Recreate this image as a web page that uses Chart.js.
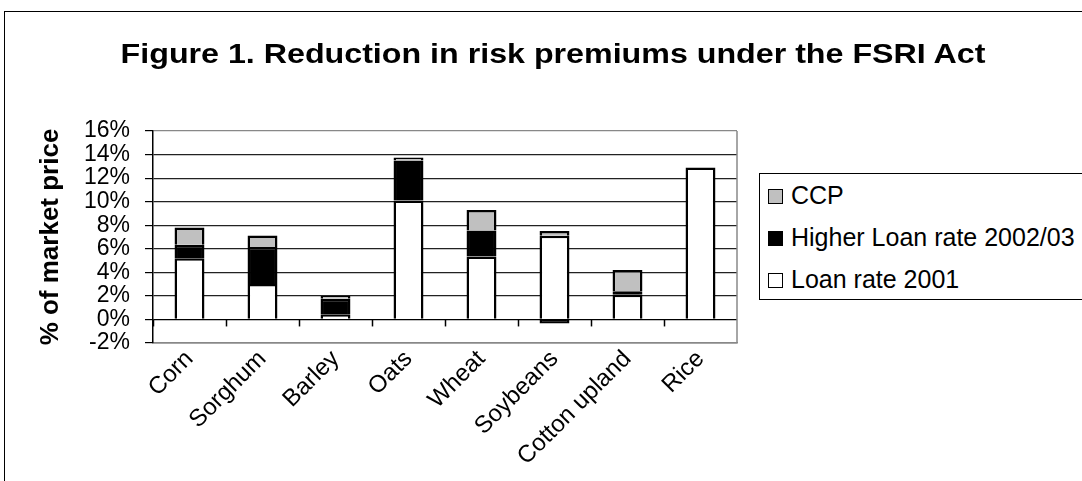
<!DOCTYPE html>
<html>
<head>
<meta charset="utf-8">
<script src="https://cdn.jsdelivr.net/npm/chart.js@4"></script>
<style>
  body { margin: 0; background: #fff; font-family: "Liberation Sans", Arial, sans-serif; }
  #wrap { position: relative; width: 1082px; height: 481px; overflow: hidden; }
  #frame { position: absolute; left: 4px; top: 11px; width: 1200px; height: 600px; border: 1px solid #000; }
  #myChart { position: absolute; left: 0; top: 0; }
  #title { position: absolute; left: 0; top: 38px; width: 1106px; text-align: center; }
  #title span { display: inline-block; font-size: 28px; font-weight: bold; color: #000; transform: scaleX(1.15); white-space: nowrap; }
  #legend { position: absolute; left: 759px; top: 173px; width: 400px; height: 125px; border: 1px solid #000; background: #fff; }
  .item { position: absolute; left: 8px; font-size: 25px; line-height: 28px; color: #000; white-space: nowrap; }
  .item span { display: inline-block; width: 13px; height: 13px; border: 1px solid #000; margin-right: 8px; vertical-align: 0px; }
</style>
</head>
<body>
<div id="wrap">
  <div id="frame"></div>
  <canvas id="myChart" width="1082" height="481"></canvas>
  <div id="title"><span>Figure 1. Reduction in risk premiums under the FSRI Act</span></div>
  <div id="legend"></div>
</div>
<script>
const crops = ['Corn', 'Sorghum', 'Barley', 'Oats', 'Wheat', 'Soybeans', 'Cotton upland', 'Rice'];
const loanRate2001 = [5.2, 3.0, 0.4, 10.1, 5.35, 7.1, 2.1, 12.9];
const higherLoanRate = [1.15, 3.15, 1.35, 3.4, 2.2, -0.35, 0.3, 0];
const ccp = [1.45, 0.97, 0.25, 0.25, 1.75, 0.4, 1.8, 0];

const fontName = '"Liberation Sans", Arial, sans-serif';

// tick marks on the zero line + grey right edge of the plot
const zeroTicks = {
  id: 'zeroTicks',
  afterDraw(chart) {
    const ctx = chart.ctx;
    const x = chart.scales.x, y = chart.scales.y;
    const y0 = y.getPixelForValue(0);
    const step = x.width / crops.length;
    ctx.save();
    ctx.strokeStyle = '#000';
    ctx.lineWidth = 1.5;
    for (let i = 0; i < crops.length; i++) {
      const px = Math.round(x.left + i * step) + 0.5;
      ctx.beginPath();
      ctx.moveTo(px, y0);
      ctx.lineTo(px, y0 + 7);
      ctx.stroke();
    }
    ctx.strokeStyle = '#888';
    ctx.beginPath();
    ctx.moveTo(chart.chartArea.right, chart.chartArea.top);
    ctx.lineTo(chart.chartArea.right, chart.chartArea.bottom);
    ctx.stroke();
    ctx.restore();
  }
};

const chart = new Chart(document.getElementById('myChart'), {
  type: 'bar',
  data: {
    labels: crops,
    datasets: [{
      label: 'Loan rate 2001',
      data: loanRate2001,
      backgroundColor: '#ffffff',
      borderColor: '#000',
      borderWidth: 2.5
    }, {
      label: 'Higher Loan rate 2002/03',
      data: higherLoanRate,
      backgroundColor: '#000000',
      borderColor: '#000',
      borderWidth: 2.5
    }, {
      label: 'CCP',
      data: ccp,
      backgroundColor: '#c0c0c0',
      borderColor: '#000',
      borderWidth: 2.5
    }]
  },
  options: {
    responsive: false,
    animation: false,
    layout: { padding: { left: 0, right: 345, top: 131, bottom: 0 } },
    datasets: { bar: { categoryPercentage: 1, barPercentage: 0.41 } },
    plugins: {
      legend: { display: false },
      tooltip: { enabled: false }
    },
    scales: {
      x: {
        stacked: true,
        grid: { display: false },
        border: { color: '#888', width: 1.5 },
        ticks: {
          color: '#000',
          font: { family: fontName, size: 24 },
          minRotation: 45,
          maxRotation: 45,
          padding: -6
        },
        afterFit(scale) { scale.height = 138; }
      },
      y: {
        stacked: true,
        min: -2,
        max: 16,
        border: { color: '#000', width: 1.5 },
        grid: {
          color: (c) => c.tick.value === 16 ? '#888' : (c.tick.value === 0 ? '#000' : '#222'),
          lineWidth: 1.2,
          tickLength: 8,
          tickColor: '#000'
        },
        ticks: {
          stepSize: 2,
          autoSkip: false,
          color: '#000',
          font: { family: fontName, size: 23 },
          padding: 15,
          callback: (v) => v + '%'
        },
        title: {
          display: true,
          text: '% of market price',
          color: '#000',
          font: { family: fontName, size: 26, weight: 'bold' },
          padding: { top: 35, bottom: 0 }
        },
        afterFit(scale) { scale.width = 153; }
      }
    }
  },
  plugins: [zeroTicks]
});

// legend box, reverse order like the original
const legend = document.getElementById('legend');
const tops = [7, 49, 91];
chart.data.datasets.slice().reverse().forEach((ds, i) => {
  const d = document.createElement('div');
  d.className = 'item';
  d.style.top = tops[i] + 'px';
  d.innerHTML = '<span style="background:' + ds.backgroundColor + '"></span>' + ds.label;
  legend.appendChild(d);
});
</script>
</body>
</html>
